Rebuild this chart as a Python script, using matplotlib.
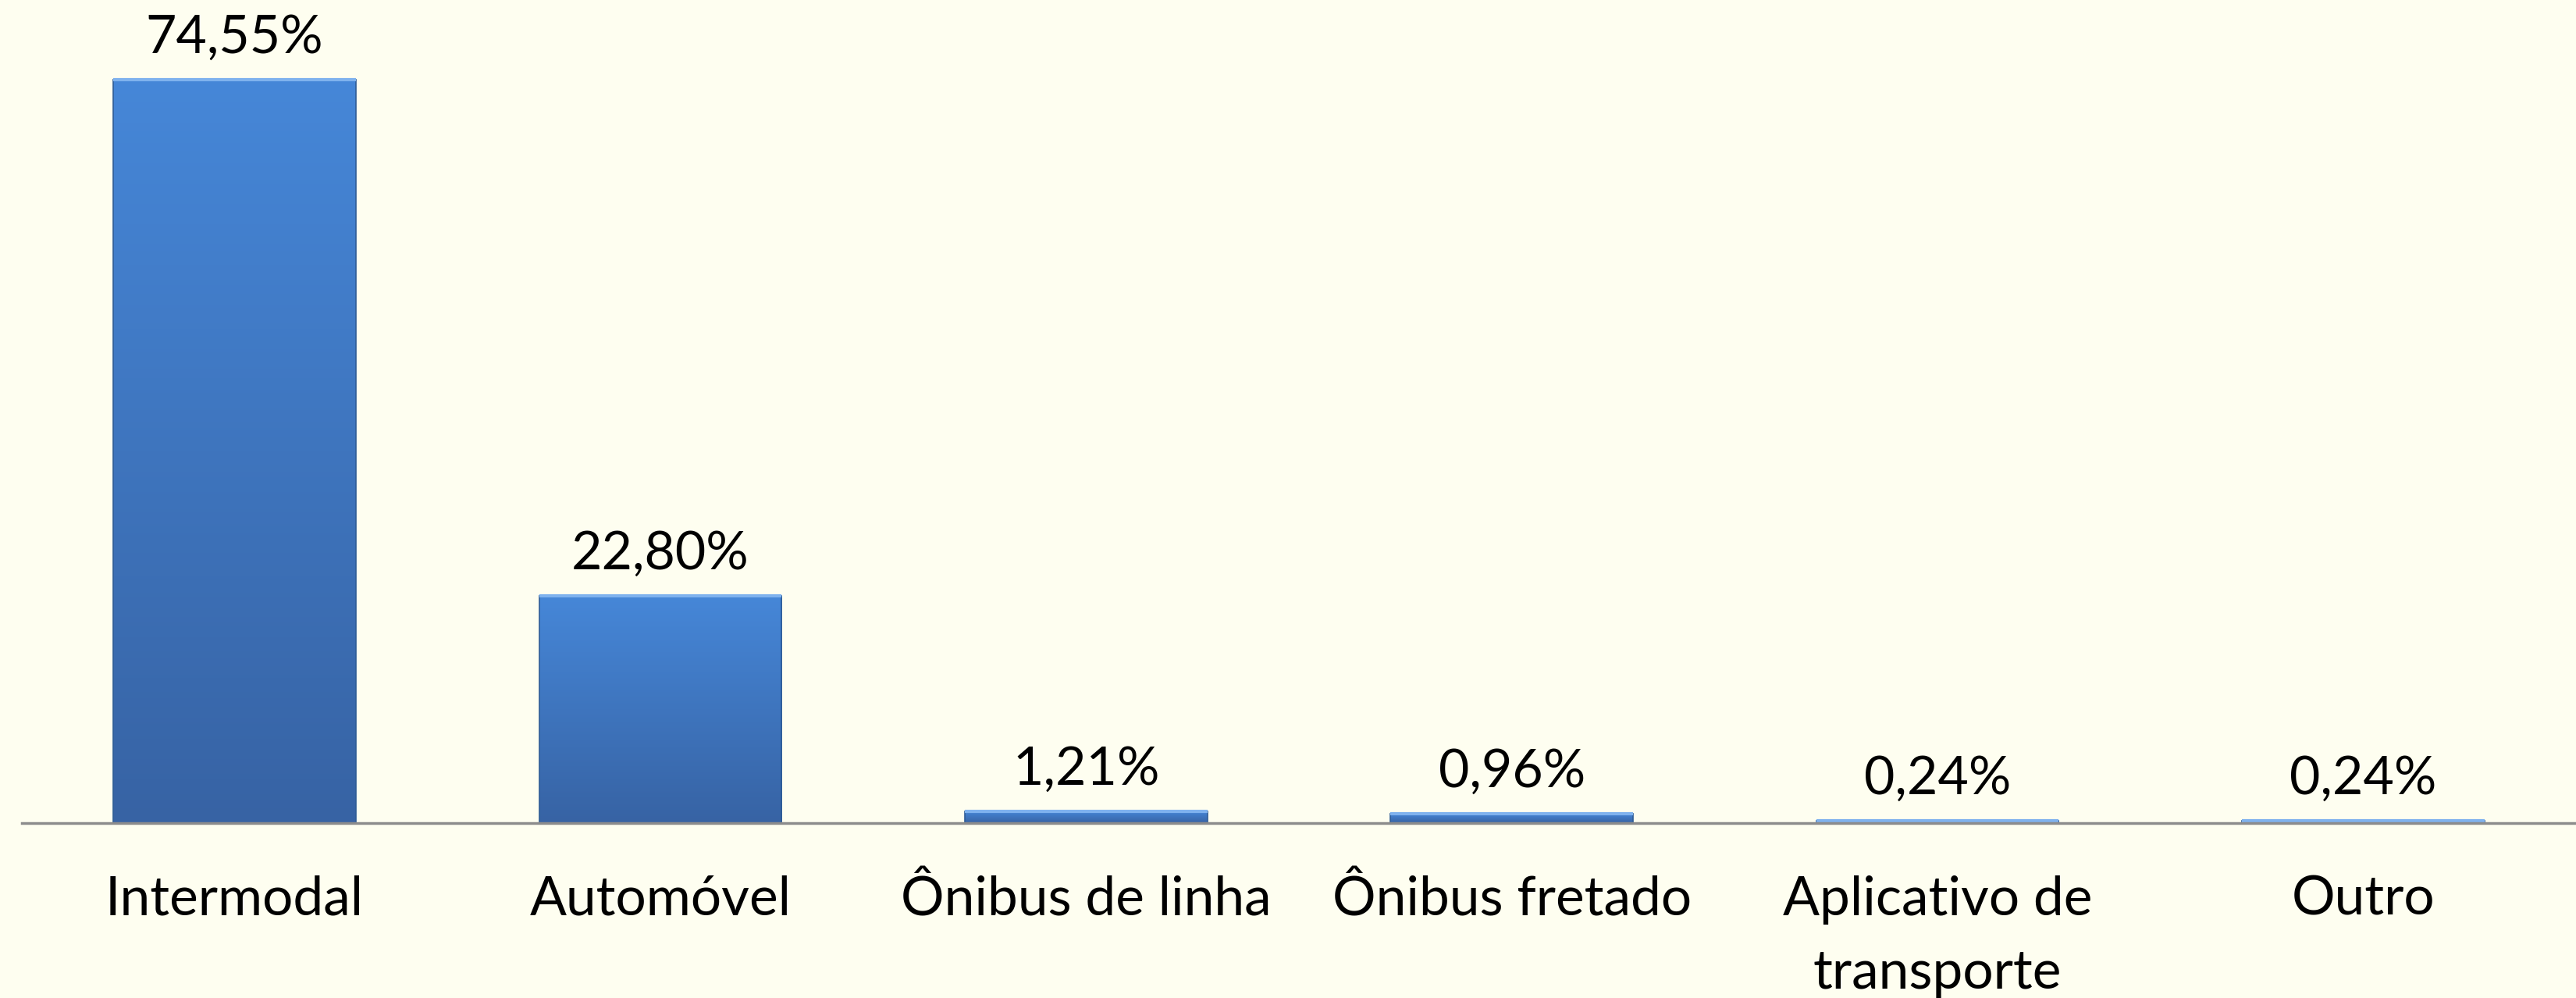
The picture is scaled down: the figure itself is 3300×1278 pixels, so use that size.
import numpy as np
import matplotlib.pyplot as plt
from matplotlib.colors import LinearSegmentedColormap

# ---- data ----
categories = ['Intermodal', 'Automóvel', 'Ônibus de linha', 'Ônibus fretado',
              'Aplicativo de\ntransporte', 'Outro']
shares = [74.55, 22.80, 1.21, 0.96, 0.24, 0.24]

bg = '#FEFEF0'
plt.rcParams['font.family'] = ['Lato', 'DejaVu Sans']

fig = plt.figure(figsize=(33, 12.78), dpi=100, facecolor=bg)
ax = fig.add_axes([28 / 3300, 1 - 1054 / 1278, 1 - 28 / 3300, 1054 / 1278])
ax.set_facecolor(bg)

x = np.arange(len(categories))
bars = ax.bar(x, shares, width=0.57, color='none', edgecolor='#2F5C96',
              linewidth=1.2, zorder=3)

# vertical blue gradient inside each bar (lighter on top)
cmap = LinearSegmentedColormap.from_list('bluegrad', ['#3763A4', '#4687D8'])
grad = np.linspace(0, 1, 256).reshape(-1, 1)
for b in bars:
    x0, y0 = b.get_x(), b.get_y()
    w, h = b.get_width(), b.get_height()
    im = ax.imshow(grad, cmap=cmap, aspect='auto', origin='lower',
                   extent=[x0, x0 + w, y0, y0 + h], zorder=2)
    im.set_clip_path(b)
    # light bevel strip along the top edge
    ax.plot([x0, x0 + w], [y0 + h, y0 + h], color='#7FB2EE', lw=3,
            solid_capstyle='butt', zorder=4)

for xi, v in zip(x, shares):
    ax.annotate(f'{v:.2f}'.replace('.', ',') + '%', (xi, v),
                xytext=(0, 16), textcoords='offset points',
                ha='center', va='bottom', fontsize=49, color='black')

ax.set_xlim(-0.5, len(categories) - 0.5)
ax.set_ylim(0, 82.5)
ax.set_xticks(x)
ax.set_xticklabels(categories, fontsize=50, linespacing=1.62)
ax.tick_params(axis='x', length=0, pad=48)
ax.set_yticks([])
for s in ['top', 'right', 'left']:
    ax.spines[s].set_visible(False)
ax.spines['bottom'].set_color('#8C8C8C')
ax.spines['bottom'].set_linewidth(2.5)
ax.spines['bottom'].set_zorder(5)

fig.savefig('out.png', dpi=100, facecolor=bg)
